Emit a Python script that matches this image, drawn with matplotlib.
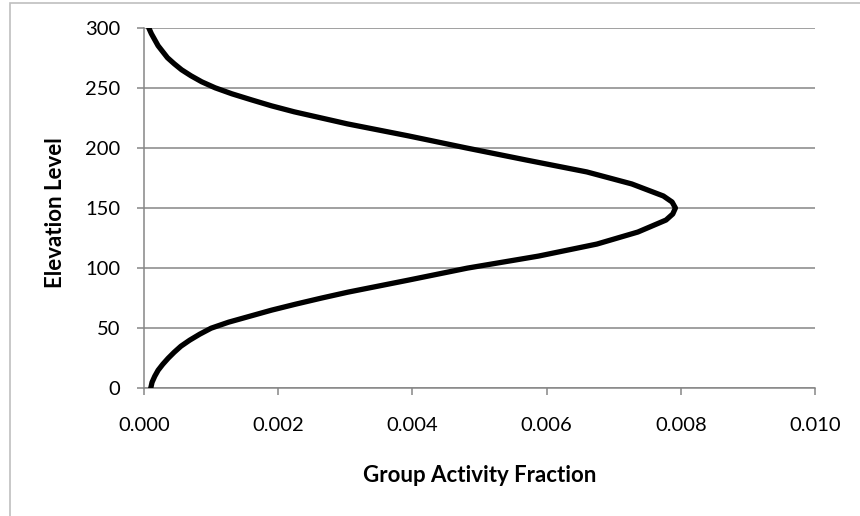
import matplotlib
matplotlib.use("Agg")
import matplotlib.pyplot as plt
from matplotlib.patches import Rectangle

# elevation levels and the activity fraction
elevation = [0, 5, 10, 15, 20, 25, 30, 35, 40, 45, 50, 55, 60, 65, 70, 75,
             80, 90, 100, 110, 120, 130, 140, 145, 150, 155, 160, 170, 180,
             190, 200, 210, 220, 230, 235, 240, 245, 250, 255, 260, 265, 270,
             275, 280, 285, 290, 295, 300]
activity = [0.00010, 0.00012, 0.00016, 0.00021, 0.00028, 0.00036, 0.00045,
            0.00055, 0.00068, 0.00083, 0.00100, 0.00126, 0.00158, 0.00190,
            0.00226, 0.00264, 0.00304, 0.00394, 0.00482, 0.00588, 0.00675,
            0.00736, 0.00778, 0.00788, 0.00792, 0.00787, 0.00774, 0.00727,
            0.00660, 0.00569, 0.00480, 0.00394, 0.00303, 0.00224, 0.00190,
            0.00160, 0.00131, 0.00106, 0.00086, 0.00070, 0.00056, 0.00045,
            0.00035, 0.00028, 0.00021, 0.00016, 0.00011, 0.00007]

x_ticks = [0.000, 0.002, 0.004, 0.006, 0.008, 0.010]
y_ticks = [0, 50, 100, 150, 200, 250, 300]

plt.rcParams["font.family"] = ["Lato", "DejaVu Sans"]
grey = "#868686"

fig = plt.figure(figsize=(8.6, 5.16), dpi=100)
ax = fig.add_axes([144 / 860, 1 - 388.3 / 516, (815 - 144) / 860, (388.3 - 27.7) / 516])

ax.plot(activity, elevation, color="black", lw=3.8, solid_capstyle="round",
        solid_joinstyle="round", zorder=3)

ax.set_xlim(0, 0.010)
ax.set_ylim(0, 300)
ax.set_xticks(x_ticks)
ax.set_xticklabels([f"{t:.3f}" for t in x_ticks])
ax.set_yticks(y_ticks)

ax.grid(axis="y", color=grey, lw=1.1)
ax.set_axisbelow(True)
for side in ["top", "right"]:
    ax.spines[side].set_visible(False)
for side in ["left", "bottom"]:
    ax.spines[side].set_color(grey)
    ax.spines[side].set_linewidth(1.1)

ax.tick_params(axis="both", colors=grey, length=5, width=1.1, labelsize=14.5,
               labelcolor="black")
ax.tick_params(axis="y", pad=12)
ax.tick_params(axis="x", pad=16)

ax.set_xlabel("Group Activity Fraction", fontsize=16, fontweight="bold", va="center")
ax.set_ylabel("Elevation Level", fontsize=16, fontweight="bold", va="center")
ax.xaxis.set_label_coords(0.5, (388.3 - 475) / 360.6)
ax.yaxis.set_label_coords((55 - 144) / 671, (388.3 - 213) / 360.6)

# chart frame, partly cut off on the right and bottom
fig.patches.append(Rectangle((10 / 860, -0.2), 1.5, 1.2 - 3 / 516,
                             transform=fig.transFigure, fill=False,
                             edgecolor="#bfbfbf", lw=1.2))

fig.savefig("out.png", dpi=100)
